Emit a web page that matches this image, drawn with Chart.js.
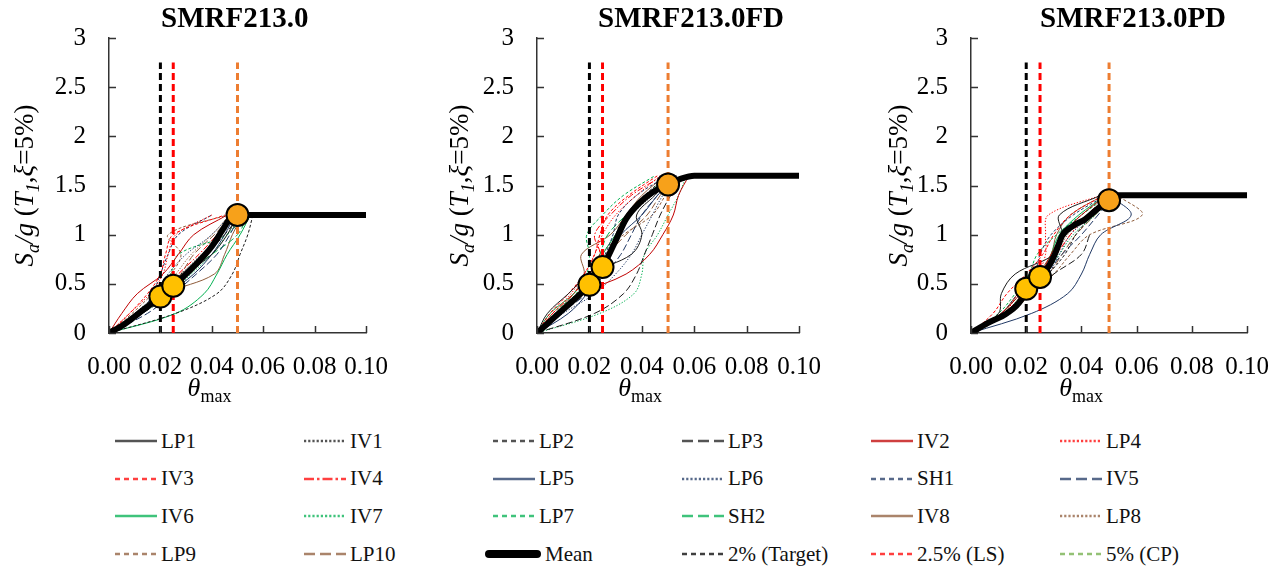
<!DOCTYPE html>
<html lang="en">
<head>
    <meta charset="UTF-8">
    <title>SMRF213.0 IDA curves</title>
    <script src="https://cdn.jsdelivr.net/npm/chart.js@4.4.0/dist/chart.umd.min.js"></script>
    <style>
        body {
            margin: 0;
            width: 1288px;
            height: 574px;
            position: relative;
            overflow: hidden;
            background: #fff;
            font-family: "Liberation Serif", "Times New Roman", serif;
        }
        canvas {
            position: absolute;
            top: 0;
        }
        .item {
            position: absolute;
            display: flex;
            align-items: center;
            height: 24px;
            font-size: 21px;
            color: #111;
            white-space: nowrap;
        }
        .item svg {
            margin-right: 4px;
        }
    </style>
</head>
<body>
    <canvas id="panelA" width="410" height="420" style="left:0px"></canvas>
    <canvas id="panelB" width="412" height="420" style="left:428px"></canvas>
    <canvas id="panelC" width="430" height="420" style="left:858px"></canvas>
    <div id="legend"></div>

    <script>
        // ground motion records, in legend order
        const RECORDS = ['LP1', 'IV1', 'LP2', 'LP3', 'IV2', 'LP4', 'IV3', 'IV4', 'LP5', 'LP6',
                         'SH1', 'IV5', 'IV6', 'IV7', 'LP7', 'SH2', 'IV8', 'LP8', 'LP9', 'LP10'];

        // SMRF213.0 : Sa levels and theta_max of each record at those levels
        const SA_A = [0, 0.2, 0.4, 0.6, 0.8, 1.0, 1.2];
        const THETA_A = [
            [0, 0.012, 0.022, 0.030, 0.040, 0.046, 0.050],  // LP1
            [0, 0.010, 0.019, 0.028, 0.036, 0.044, 0.049],  // IV1
            [0, 0.026, 0.042, 0.048, 0.051, 0.054, 0.056],  // LP2
            [0, 0.013, 0.024, 0.031, 0.038, 0.045, 0.051],  // LP3
            [0, 0.005, 0.011, 0.021, 0.027, 0.033, 0.046],  // IV2
            [0, 0.008, 0.016, 0.021, 0.023, 0.026, 0.040],  // LP4
            [0, 0.008, 0.015, 0.020, 0.022, 0.025, 0.045],  // IV3
            [0, 0.011, 0.020, 0.027, 0.035, 0.042, 0.048],  // IV4
            [0, 0.013, 0.023, 0.033, 0.040, 0.045, 0.049],  // LP5
            [0, 0.012, 0.018, 0.023, 0.030, 0.040, 0.047],  // LP6
            [0, 0.012, 0.017, 0.020, 0.023, 0.027, 0.040],  // SH1
            [0, 0.015, 0.025, 0.034, 0.042, 0.047, 0.051],  // IV5
            [0, 0.026, 0.037, 0.042, 0.046, 0.051, 0.055],  // IV6
            [0, 0.013, 0.024, 0.032, 0.040, 0.046, 0.052],  // IV7
            [0, 0.011, 0.020, 0.024, 0.027, 0.046, 0.052],  // LP7
            [0, 0.012, 0.022, 0.029, 0.040, 0.050, 0.054],  // SH2
            [0, 0.012, 0.022, 0.041, 0.045, 0.048, 0.052],  // IV8
            [0, 0.010, 0.020, 0.026, 0.032, 0.040, 0.047],  // LP8
            [0, 0.009, 0.017, 0.024, 0.028, 0.023, 0.046],  // LP9
            [0, 0.012, 0.022, 0.028, 0.033, 0.041, 0.048]   // LP10
        ];
        const MEAN_A_X = [0, 0.006, 0.014, 0.020, 0.025, 0.0335, 0.040, 0.044, 0.047, 0.050, 0.10];
        const MEAN_A_Y = [0, 0.09, 0.25, 0.37, 0.48, 0.69, 0.88, 1.04, 1.16, 1.20, 1.20];
        const DOTS_A_Y = [0.37, 0.48, 1.20];

        // SMRF213.0FD
        const SA_B = [0, 0.2, 0.4, 0.6, 0.8, 1.0, 1.2, 1.4, 1.6];
        const THETA_B = [
            [0, 0.004, 0.012, 0.020, 0.036, 0.040, 0.038, 0.045, 0.052],  // LP1
            [0, 0.008, 0.016, 0.022, 0.027, 0.031, 0.036, 0.044, 0.051],  // IV1
            [0, 0.007, 0.017, 0.024, 0.028, 0.030, 0.034, 0.041, 0.050],  // LP2
            [0, 0.022, 0.033, 0.038, 0.041, 0.044, 0.047, 0.051, 0.056],  // LP3
            [0, 0.008, 0.017, 0.034, 0.043, 0.048, 0.052, 0.054, 0.058],  // IV2
            [0, 0.006, 0.013, 0.018, 0.022, 0.025, 0.030, 0.038, 0.047],  // LP4
            [0, 0.005, 0.012, 0.018, 0.022, 0.024, 0.027, 0.035, 0.046],  // IV3
            [0, 0.006, 0.014, 0.020, 0.024, 0.022, 0.028, 0.036, 0.048],  // IV4
            [0, 0.012, 0.019, 0.023, 0.027, 0.032, 0.040, 0.046, 0.053],  // LP5
            [0, 0.010, 0.022, 0.030, 0.036, 0.040, 0.044, 0.048, 0.054],  // LP6
            [0, 0.008, 0.017, 0.022, 0.026, 0.029, 0.031, 0.038, 0.050],  // SH1
            [0, 0.009, 0.019, 0.026, 0.032, 0.036, 0.040, 0.046, 0.053],  // IV5
            [0, 0.005, 0.014, 0.020, 0.025, 0.030, 0.036, 0.042, 0.050],  // IV6
            [0, 0.024, 0.037, 0.040, 0.041, 0.046, 0.050, 0.054, 0.057],  // IV7
            [0, 0.006, 0.015, 0.019, 0.020, 0.019, 0.025, 0.033, 0.045],  // LP7
            [0, 0.007, 0.016, 0.021, 0.024, 0.027, 0.034, 0.042, 0.052],  // SH2
            [0, 0.007, 0.014, 0.018, 0.017, 0.028, 0.034, 0.040, 0.049],  // IV8
            [0, 0.008, 0.016, 0.021, 0.025, 0.030, 0.036, 0.043, 0.051],  // LP8
            [0, 0.007, 0.015, 0.020, 0.024, 0.033, 0.044, 0.049, 0.054],  // LP9
            [0, 0.008, 0.016, 0.022, 0.027, 0.034, 0.042, 0.047, 0.053]   // LP10
        ];
        const MEAN_B_X = [0, 0.010, 0.020, 0.025, 0.0295, 0.034, 0.039, 0.044, 0.050, 0.055, 0.060, 0.10];
        const MEAN_B_Y = [0, 0.24, 0.49, 0.67, 0.91, 1.16, 1.32, 1.43, 1.51, 1.57, 1.60, 1.60];
        const DOTS_B_Y = [0.49, 0.67, 1.51];

        // SMRF213.0PD
        const SA_C = [0, 0.2, 0.4, 0.6, 0.8, 1.0, 1.2, 1.4];
        const THETA_C = [
            [0, 0.010, 0.011, 0.016, 0.030, 0.033, 0.032, 0.047],  // LP1
            [0, 0.012, 0.019, 0.025, 0.030, 0.034, 0.042, 0.050],  // IV1
            [0, 0.013, 0.021, 0.028, 0.034, 0.038, 0.044, 0.051],  // LP2
            [0, 0.013, 0.022, 0.030, 0.040, 0.043],                // LP3
            [0, 0.011, 0.018, 0.025, 0.029, 0.033, 0.040, 0.049],  // IV2
            [0, 0.012, 0.017, 0.024, 0.027, 0.027, 0.028, 0.047],  // LP4
            [0, 0.008, 0.013, 0.020, 0.026, 0.030, 0.036, 0.048],  // IV3
            [0, 0.012, 0.019, 0.026, 0.031, 0.036, 0.042, 0.050],  // IV4
            [0, 0.022, 0.035, 0.040, 0.043, 0.047, 0.058, 0.050],  // LP5
            [0, 0.013, 0.021, 0.028, 0.032, 0.036, 0.044, 0.051],  // LP6
            [0, 0.011, 0.017, 0.023, 0.025, 0.029, 0.037, 0.049],  // SH1
            [0, 0.012, 0.020, 0.027, 0.033, 0.040, 0.046, 0.052],  // IV5
            [0, 0.012, 0.019, 0.026, 0.029, 0.032, 0.039, 0.049],  // IV6
            [0, 0.013, 0.020, 0.027, 0.032, 0.037, 0.045, 0.052],  // IV7
            [0, 0.010, 0.016, 0.021, 0.024, 0.031, 0.040, 0.050],  // LP7
            [0, 0.011, 0.018, 0.025, 0.030, 0.034, 0.043, 0.053],  // SH2
            [0, 0.011, 0.017, 0.024, 0.029, 0.031, 0.036, 0.048],  // IV8
            [0, 0.012, 0.019, 0.027, 0.031, 0.035, 0.042, 0.051],  // LP8
            [0, 0.014, 0.022, 0.030, 0.036, 0.043, 0.062, 0.053],  // LP9
            [0, 0.012, 0.020, 0.028, 0.033, 0.038, 0.045, 0.052]   // LP10
        ];
        const MEAN_C_X = [0, 0.006, 0.013, 0.018, 0.020, 0.025, 0.029, 0.0315, 0.033, 0.037, 0.0415, 0.0457, 0.050, 0.052, 0.10];
        const MEAN_C_Y = [0, 0.10, 0.20, 0.33, 0.45, 0.57, 0.72, 0.88, 0.99, 1.09, 1.16, 1.26, 1.35, 1.40, 1.40];
        const DOTS_C_Y = [0.45, 0.57, 1.35];

        // drift limits: 2% (Target), 2.5% (LS), 5% (CP)
        const LIMITS = [0.02, 0.025, 0.05];
        const LIMIT_LABELS = ['2% (Target)', '2.5% (LS)', '5% (CP)'];
        const LIMIT_TOP = 2.75;
        const TITLES = ['SMRF213.0', 'SMRF213.0FD', 'SMRF213.0PD'];

        // styles
        const FONT = '"Liberation Serif", "Times New Roman", serif';
        Chart.defaults.font.family = FONT;
        const GROUP_COLOR = ['#1c1c1c', '#ff0000', '#203864', '#00b050', '#8e5b3a'];
        const DASH_CHART = { solid: [], dot: [1.3, 1.7], dash: [3, 2], long: [7, 3], dashdot: [6, 2, 1.5, 2] };
        const DASH_LEGEND = { solid: '', dot: '2.2 2', dash: '5 4', long: '11 5', dashdot: '10 3 2.5 3' };
        const REC_DASH = ['solid', 'dot', 'dash', 'long', 'solid', 'dot', 'dash', 'dashdot', 'solid', 'dot',
                          'dash', 'long', 'solid', 'dot', 'dash', 'long', 'solid', 'dot', 'dash', 'long'];
        const REC_COLOR = RECORDS.map((r, i) => {
            if (r === 'IV2') return '#c00000';
            if (i < 4) return GROUP_COLOR[0];
            if (i < 8) return GROUP_COLOR[1];
            if (i < 12) return GROUP_COLOR[2];
            if (i < 16) return GROUP_COLOR[3];
            return GROUP_COLOR[4];
        });
        const LIMIT_COLOR = ['#000000', '#ff0000', '#ed7d31'];
        const LIMIT_LEGEND_COLOR = ['#000000', '#ff0000', '#70ad47'];
        const DOT_COLOR = ['#ffc000', '#ffc000', '#f7a11a'];

        function drawRich(ctx, parts, x, y, angle) {
            ctx.save();
            ctx.translate(x, y);
            ctx.rotate(angle);
            let total = 0;
            parts.forEach(p => {
                ctx.font = p.font;
                p.w = ctx.measureText(p.t).width;
                total += p.w;
            });
            let cx = -total / 2;
            ctx.textBaseline = 'alphabetic';
            ctx.fillStyle = '#000';
            parts.forEach(p => {
                ctx.font = p.font;
                ctx.fillText(p.t, cx, p.dy || 0);
                cx += p.w;
            });
            ctx.restore();
        }

        const decor = {
            id: 'decor',
            afterDraw(chart, args, opts) {
                const { ctx, chartArea: a, scales: { x, y } } = chart;
                ctx.save();
                // inward tick marks
                ctx.strokeStyle = '#333';
                ctx.lineWidth = 1.5;
                ctx.beginPath();
                x.ticks.forEach(t => {
                    const px = Math.round(x.getPixelForValue(t.value)) + 0.5;
                    ctx.moveTo(px, a.bottom);
                    ctx.lineTo(px, a.bottom - 7);
                });
                y.ticks.forEach(t => {
                    const py = Math.round(y.getPixelForValue(t.value)) + 0.5;
                    ctx.moveTo(a.left, py);
                    ctx.lineTo(a.left + 7, py);
                });
                ctx.stroke();

                // panel title
                ctx.fillStyle = '#000';
                ctx.font = 'bold 29px ' + FONT;
                ctx.textBaseline = 'alphabetic';
                ctx.fillText(opts.title, opts.titleX, 27);
                ctx.restore();

                // x title
                const cxm = (a.left + a.right) / 2 - 28;
                drawRich(ctx, [
                    { t: 'θ', font: 'italic 26px ' + FONT },
                    { t: 'max', font: '18px ' + FONT, dy: 6 }
                ], cxm, 396, 0);

                // y title
                drawRich(ctx, [
                    { t: 'S', font: 'italic 27px ' + FONT },
                    { t: 'a', font: 'italic 18px ' + FONT, dy: 6 },
                    { t: '/g', font: 'italic 27px ' + FONT },
                    { t: ' (', font: '27px ' + FONT },
                    { t: 'T', font: 'italic 27px ' + FONT },
                    { t: '1', font: 'italic 18px ' + FONT, dy: 6 },
                    { t: ',', font: '27px ' + FONT },
                    { t: 'ξ', font: 'italic 27px ' + FONT },
                    { t: '=5%)', font: '27px ' + FONT }
                ], opts.yTitleX, (a.top + a.bottom) / 2, -Math.PI / 2);
            }
        };

        function makePanel(id, sa, thetas, meanX, meanY, dotsY, title, geo) {
            const datasets = [];
            thetas.forEach((row, i) => {
                datasets.push({
                    label: RECORDS[i],
                    data: row.map((t, k) => ({ x: t, y: sa[k] })),
                    borderColor: REC_COLOR[i],
                    borderWidth: 1,
                    borderDash: DASH_CHART[REC_DASH[i]],
                    pointRadius: 0,
                    showLine: true,
                    tension: 0.35,
                    order: 4
                });
            });
            LIMITS.forEach((v, i) => {
                datasets.push({
                    label: LIMIT_LABELS[i],
                    data: [{ x: v, y: 0 }, { x: v, y: LIMIT_TOP }],
                    borderColor: LIMIT_COLOR[i],
                    borderWidth: 3,
                    borderDash: [7, 4],
                    pointRadius: 0,
                    showLine: true,
                    order: 3
                });
            });
            datasets.push({
                label: 'Mean',
                data: meanX.map((v, k) => ({ x: v, y: meanY[k] })),
                borderColor: '#000',
                borderWidth: 6,
                pointRadius: 0,
                showLine: true,
                cubicInterpolationMode: 'monotone',
                order: 2
            });
            datasets.push({
                label: 'limits on mean',
                data: LIMITS.map((v, k) => ({ x: v, y: dotsY[k] })),
                pointRadius: 11,
                pointBackgroundColor: DOT_COLOR,
                pointBorderColor: '#000',
                pointBorderWidth: 2,
                showLine: false,
                order: 0
            });

            const tickFont = { family: FONT, size: 25 };
            new Chart(document.getElementById(id), {
                type: 'scatter',
                data: { datasets },
                options: {
                    responsive: false,
                    animation: false,
                    events: [],
                    layout: { padding: { top: 16, right: geo.padRight, left: 0, bottom: 0 } },
                    scales: {
                        x: {
                            type: 'linear',
                            min: 0,
                            max: 0.1,
                            afterFit: s => { s.height = 87; },
                            ticks: {
                                stepSize: 0.02,
                                autoSkip: false,
                                maxRotation: 0,
                                padding: 19,
                                color: '#000',
                                font: tickFont,
                                callback: v => v.toFixed(2)
                            },
                            grid: { drawOnChartArea: false, drawTicks: false },
                            border: { color: '#333', width: 1.5 }
                        },
                        y: {
                            min: 0,
                            max: 3,
                            afterFit: s => { s.width = geo.axisW; },
                            ticks: {
                                stepSize: 0.5,
                                padding: 23,
                                color: '#000',
                                font: tickFont,
                                callback: v => String(Math.round(v * 10) / 10)
                            },
                            grid: { drawOnChartArea: false, drawTicks: false },
                            border: { color: '#333', width: 1.5 }
                        }
                    },
                    plugins: {
                        legend: { display: false },
                        tooltip: { enabled: false },
                        decor: { title: title, titleX: geo.titleX, yTitleX: geo.yTitleX }
                    }
                },
                plugins: [decor]
            });
        }

        makePanel('panelA', SA_A, THETA_A, MEAN_A_X, MEAN_A_Y, DOTS_A_Y, TITLES[0],
                  { axisW: 109, padRight: 44, titleX: 161, yTitleX: 33 });
        makePanel('panelB', SA_B, THETA_B, MEAN_B_X, MEAN_B_Y, DOTS_B_Y, TITLES[1],
                  { axisW: 109, padRight: 32, titleX: 170, yTitleX: 40 });
        makePanel('panelC', SA_C, THETA_C, MEAN_C_X, MEAN_C_Y, DOTS_C_Y, TITLES[2],
                  { axisW: 113, padRight: 35, titleX: 182, yTitleX: 49 });

        // shared legend, 6 columns
        function sample(color, width, dash, opacity) {
            return '<svg width="42" height="12"><line x1="0" y1="6" x2="42" y2="6" stroke="' + color +
                '" stroke-width="' + width + '" stroke-dasharray="' + dash + '" opacity="' + opacity + '"/></svg>';
        }
        const meanSample = '<svg width="56" height="12"><line x1="4" y1="6" x2="52" y2="6" stroke="#000" ' +
            'stroke-width="8" stroke-linecap="round"/></svg>';
        const legendItems = RECORDS.map((r, i) => ({ label: r, svg: sample(REC_COLOR[i], 2.6, DASH_LEGEND[REC_DASH[i]], 0.75) }));
        legendItems.push({ label: 'Mean', svg: meanSample, shift: -8 });
        LIMIT_LABELS.forEach((l, i) => legendItems.push({ label: l, svg: sample(LIMIT_LEGEND_COLOR[i], 2.6, '5 4', 0.75) }));

        const legend = document.getElementById('legend');
        legendItems.forEach((it, i) => {
            const col = i % 6, row = Math.floor(i / 6);
            const div = document.createElement('div');
            div.className = 'item';
            div.style.left = (115 + col * 189 + (it.shift || 0)) + 'px';
            div.style.top = (429 + row * 37.7) + 'px';
            div.innerHTML = it.svg + '<span>' + it.label + '</span>';
            legend.appendChild(div);
        });
    </script>
</body>
</html>
